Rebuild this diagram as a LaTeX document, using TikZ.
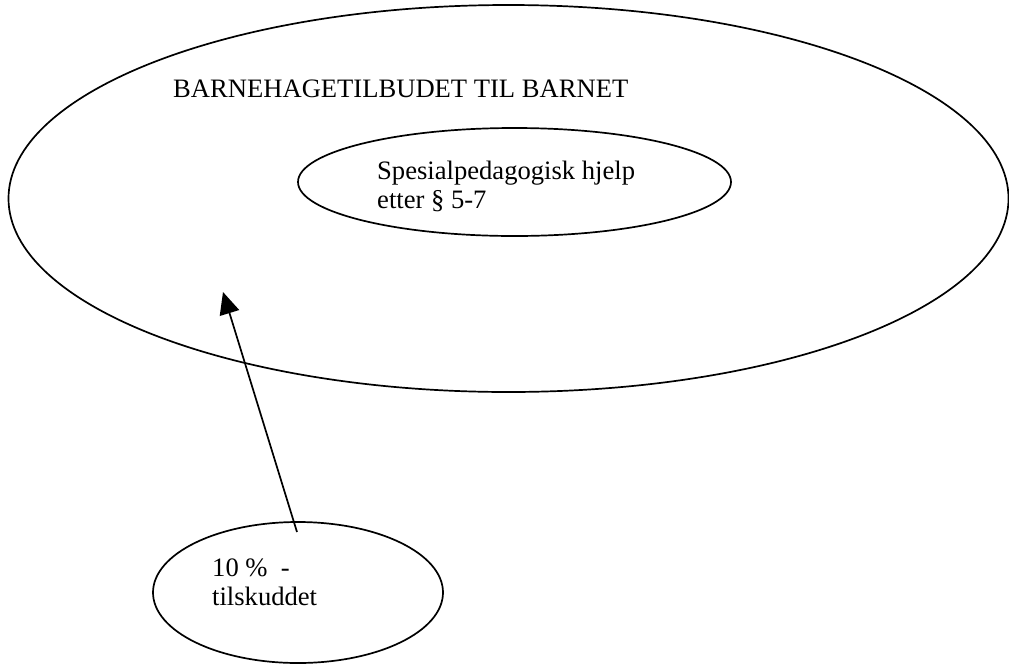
\documentclass[tikz,border=0pt]{standalone}
\usepackage{fontspec}
\setmainfont{Liberation Serif}
\usetikzlibrary{shapes.geometric,arrows.meta}
\begin{document}
\begin{tikzpicture}[x=1pt,y=-1pt,
  oval/.style={draw,ellipse,inner sep=0pt,line width=1.7pt},
  lbl/.style={anchor=base west,inner sep=0pt,font=\fontsize{26.6}{29}\selectfont,align=left},
  arr/.style={line width=1.7pt,-{Triangle[length=22pt,width=20pt]}}]
\useasboundingbox[fill=white] (0,0) rectangle (1009,665);
\node[oval,minimum width=1000pt,minimum height=387pt] (big) at (508.5,198.5) {};
\node[oval,minimum width=433pt,minimum height=108pt] (inner) at (514.5,182) {};
\node[oval,minimum width=290pt,minimum height=141pt] (small) at (298,592.5) {};
\node[lbl] (t1) at (173,97) {BARNEHAGETILBUDET TIL BARNET};
\node[lbl] (t2) at (377,208) {Spesialpedagogisk hjelp\\etter § 5-7};
\node[lbl] (t3) at (212,605) {10 \%\ \ -\\tilskuddet};
\coordinate (tail) at (297,532);
\coordinate (tip) at (223,292);
\draw[arr] (tail) -- (tip);
\end{tikzpicture}
\end{document}
